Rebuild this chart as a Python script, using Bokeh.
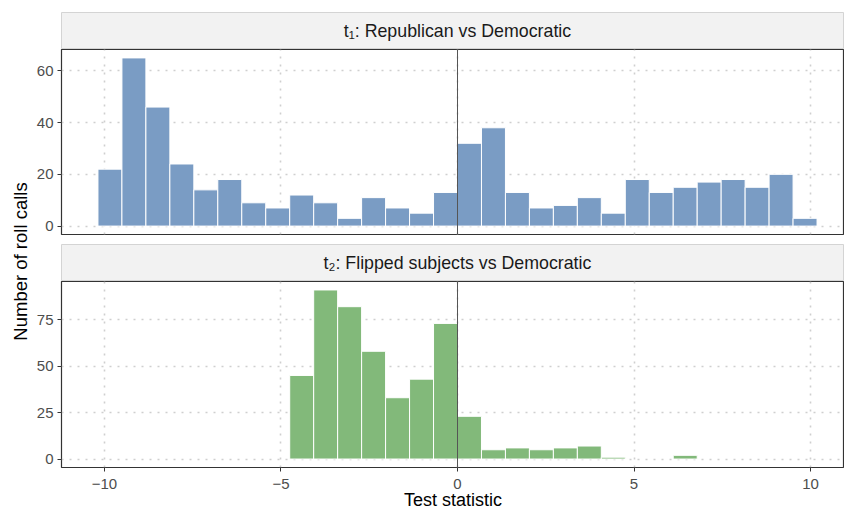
import math
from bokeh.plotting import figure
from bokeh.layouts import column, row
from bokeh.models import FixedTicker, Span, Label, Range1d, ColumnDataSource
from bokeh.embed import file_html
from bokeh.resources import INLINE

# ---- data (histogram counts) ----
bin_width = 0.679
t1_first_bin = -15   # bin index k covers [k*w, (k+1)*w]
t1_counts = [22, 65, 46, 24, 14, 18, 9, 7, 12, 9, 3, 11, 7, 5, 13,
             32, 38, 13, 7, 8, 11, 5, 18, 13, 15, 17, 18, 15, 20, 3]
t2_first_bin = -7
t2_counts = [45, 91, 82, 58, 33, 43, 73,
             23, 5, 6, 5, 6, 7, 1, 0, 0, 2]

strip_labels = ["t\u2081: Republican vs Democratic",
                "t\u2082: Flipped subjects vs Democratic"]
x_ticks = [-10, -5, 0, 5, 10]
x_tick_labels = {-10: "\u221210", -5: "\u22125", 0: "0", 5: "5", 10: "10"}
y_ticks_1 = [0, 20, 40, 60]
y_ticks_2 = [0, 25, 50, 75]
x_title = "Test statistic"
y_title = "Number of roll calls"

FONT = "Liberation Sans"
BLUE = "#7A9CC4"
GREEN = "#82B97A"
GRID = "#CFCFCF"
DARK = "#333333"

FW = 783
LEFT = 29
xr = Range1d(-11.218, 10.963)


def hist_source(first_bin, counts):
    left, right, top = [], [], []
    for i, c in enumerate(counts):
        if c <= 0:
            continue
        k = first_bin + i
        left.append(k * bin_width)
        right.append((k + 1) * bin_width)
        top.append(c)
    return ColumnDataSource(dict(left=left, right=right, top=top))


def strip(text, top_border):
    s = figure(frame_width=FW, frame_height=37, x_range=xr, y_range=Range1d(0, 1),
               toolbar_location=None, output_backend="svg",
               x_axis_location=None, y_axis_location=None,
               min_border_left=LEFT, min_border_right=0,
               min_border_top=top_border, min_border_bottom=0)
    s.background_fill_color = "#F2F2F2"
    s.border_fill_color = "white"
    s.outline_line_color = "#D4D4D4"
    s.outline_line_width = 1
    s.grid.visible = False
    s.add_layout(Label(x=0, y=0.5, text=text, text_align="center",
                       text_baseline="middle", text_font=FONT,
                       text_font_size="17.8px", text_color="#1A1A1A"))
    return s


def panel(counts_src, color, yr, yticks, fh, bottom_axis, min_bottom):
    p = figure(frame_width=FW, frame_height=fh, x_range=xr, y_range=yr,
               toolbar_location=None, output_backend="svg",
               x_axis_location="below" if bottom_axis else None,
               min_border_left=LEFT, min_border_right=0,
               min_border_top=0, min_border_bottom=min_bottom)
    p.background_fill_color = "white"
    p.border_fill_color = "white"
    p.outline_line_color = DARK
    p.outline_line_width = 1.2

    p.xgrid.ticker = FixedTicker(ticks=x_ticks)
    p.ygrid.ticker = FixedTicker(ticks=yticks)
    for g in (p.xgrid, p.ygrid):
        g.grid_line_color = GRID
        g.grid_line_width = 1.6
        g.grid_line_dash = "2 6"
        g.minor_grid_line_color = None

    p.quad(left="left", right="right", bottom=0, top="top", source=counts_src,
           fill_color=color, line_color="white", line_width=1)

    p.add_layout(Span(location=0, dimension="height", line_color="#555555",
                      line_width=1))

    ya = p.yaxis[0]
    ya.ticker = FixedTicker(ticks=yticks)
    ya.axis_line_color = None
    ya.major_tick_line_color = DARK
    ya.major_tick_out = 4
    ya.major_tick_in = 0
    ya.minor_tick_line_color = None
    ya.major_label_standoff = 4
    ya.major_label_text_font = FONT
    ya.major_label_text_font_size = "15px"
    ya.major_label_text_color = "#4D4D4D"

    if bottom_axis:
        xa = p.xaxis[0]
        xa.ticker = FixedTicker(ticks=x_ticks)
        xa.major_label_overrides = x_tick_labels
        xa.axis_line_color = None
        xa.major_tick_line_color = DARK
        xa.major_tick_out = 4
        xa.major_tick_in = 0
        xa.minor_tick_line_color = None
        xa.major_label_standoff = 7
        xa.major_label_text_font = FONT
        xa.major_label_text_font_size = "15px"
        xa.major_label_text_color = "#4D4D4D"
        xa.axis_label = x_title
        xa.axis_label_standoff = -2
        xa.axis_label_text_font = FONT
        xa.axis_label_text_font_size = "18px"
        xa.axis_label_text_font_style = "normal"
        xa.axis_label_text_color = "black"
    return p


s1 = strip(strip_labels[0], 12)
p1 = panel(hist_source(t1_first_bin, t1_counts), BLUE, Range1d(-3.25, 68.25),
           y_ticks_1, 185, False, 10)
s2 = strip(strip_labels[1], 0)
p2 = panel(hist_source(t2_first_bin, t2_counts), GREEN, Range1d(-4.55, 95.55),
           y_ticks_2, 186, True, 0)

col = column(s1, p1, s2, p2, spacing=0)

TOTAL_H = 508
yt = figure(frame_width=32, frame_height=TOTAL_H,
            x_range=Range1d(0, 32), y_range=Range1d(TOTAL_H, 0),
            toolbar_location=None, output_backend="svg",
            x_axis_location=None, y_axis_location=None,
            min_border=0)
yt.outline_line_color = None
yt.grid.visible = False
yt.background_fill_color = "white"
yt.border_fill_color = "white"
yt.add_layout(Label(x=20, y=261, text=y_title, angle=math.pi / 2,
                    text_align="center", text_baseline="middle",
                    text_font=FONT, text_font_size="18.5px", text_color="black"))

layout = row(yt, col, spacing=0)

open("out.html", "w").write(file_html(layout, INLINE))
